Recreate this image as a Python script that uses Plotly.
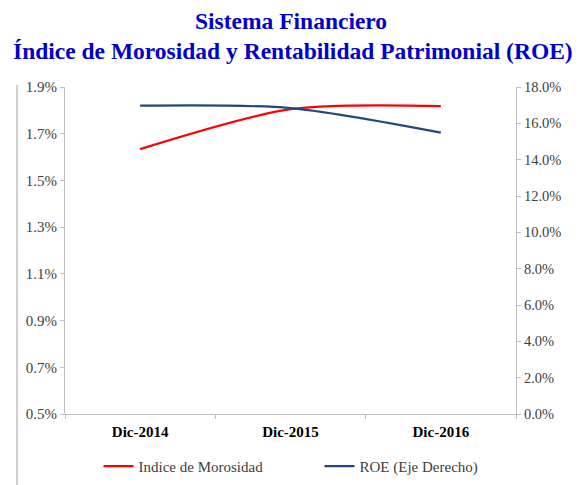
import plotly.graph_objects as go

categories = ["Dic-2014", "Dic-2015", "Dic-2016"]
morosidad = [1.634, 1.805, 1.818]   # % (left axis)
roe = [16.97, 16.84, 15.49]         # % (right axis)
left_ticks = [0.5, 0.7, 0.9, 1.1, 1.3, 1.5, 1.7, 1.9]
right_ticks = [0, 2, 4, 6, 8, 10, 12, 14, 16, 18]
title_lines = ["Sistema Financiero", "Índice de Morosidad y Rentabilidad Patrimonial (ROE)"]

serif = "Liberation Serif"
axis_col = "#BFBFBF"
txt_col = "#404040"

# page has an 8px body margin, so the figure is drawn 8px smaller / shifted
OFF = 8
W, H = 581 - OFF, 485 - OFF
L, R, T, B = 65 - OFF, W - (516 - OFF), 87 - OFF, H - (414 - OFF)
pw, ph = W - L - R, H - T - B

def px_x(x):  # x in reference page pixels -> paper
    return (x - OFF - L) / pw

def px_y(y):
    return (H - B - (y - OFF)) / ph

fig = go.Figure()
fig.add_trace(go.Scatter(
    x=categories, y=morosidad, name="Indice de Morosidad", mode="lines",
    line=dict(color="#FF0000", width=2.2, shape="spline", smoothing=0.8),
    yaxis="y",
))
fig.add_trace(go.Scatter(
    x=categories, y=roe, name="ROE (Eje Derecho)", mode="lines",
    line=dict(color="#1F497D", width=2.2, shape="spline", smoothing=0.8),
    yaxis="y2",
))

annotations = [
    dict(text=f"<b>{title_lines[0]}</b>", xref="paper", yref="paper",
         x=px_x(291), y=px_y(21), xanchor="center", yanchor="middle",
         showarrow=False, font=dict(family=serif, size=23.5, color="#0000CC")),
    dict(text=f"<b>{title_lines[1]}</b>", xref="paper", yref="paper",
         x=px_x(292.5), y=px_y(51), xanchor="center", yanchor="middle",
         showarrow=False, font=dict(family=serif, size=23.5, color="#0000CC")),
]

fig.update_layout(
    width=W, height=H,
    margin=dict(l=L, r=R, t=T, b=B, autoexpand=False),
    paper_bgcolor="white", plot_bgcolor="white",
    annotations=annotations,
    xaxis=dict(
        type="category", range=[-0.5, 2.5], automargin=False,
        showline=True, linecolor=axis_col, linewidth=1,
        ticks="outside", tickson="boundaries", ticklen=4, tickcolor=axis_col,
        showgrid=False, zeroline=False, ticklabelstandoff=4,
        tickfont=dict(family=serif, size=15, color="#000000"),
        tickprefix="<b>", ticksuffix="</b>",
    ),
    yaxis=dict(
        range=[0.5, 1.9], tickvals=left_ticks, automargin=False,
        ticktext=[f"{v:.1f}%" for v in left_ticks],
        showline=True, linecolor=axis_col, linewidth=1,
        ticks="outside", ticklen=4, tickcolor=axis_col,
        showgrid=False, zeroline=False,
        tickfont=dict(family=serif, size=15, color=txt_col),
    ),
    yaxis2=dict(
        range=[0, 18], tickvals=right_ticks, automargin=False,
        ticktext=[f"{v:.1f}%" for v in right_ticks],
        overlaying="y", side="right",
        showline=True, linecolor=axis_col, linewidth=1,
        ticks="outside", ticklen=4, tickcolor=axis_col,
        showgrid=False, zeroline=False,
        tickfont=dict(family=serif, size=14.5, color=txt_col),
    ),
    legend=dict(
        orientation="h", x=px_x(98.5), xanchor="left", y=-0.11, yanchor="top",
        font=dict(family=serif, size=15, color=txt_col),
        entrywidth=176, entrywidthmode="pixels",
        bgcolor="rgba(0,0,0,0)",
    ),
    shapes=[dict(
        type="line", xref="paper", yref="paper",
        x0=px_x(17), x1=px_x(17), y0=px_y(485), y1=px_y(85),
        line=dict(color="#BFBFBF", width=1.5),
    )],
)

fig.write_html("out.html")
